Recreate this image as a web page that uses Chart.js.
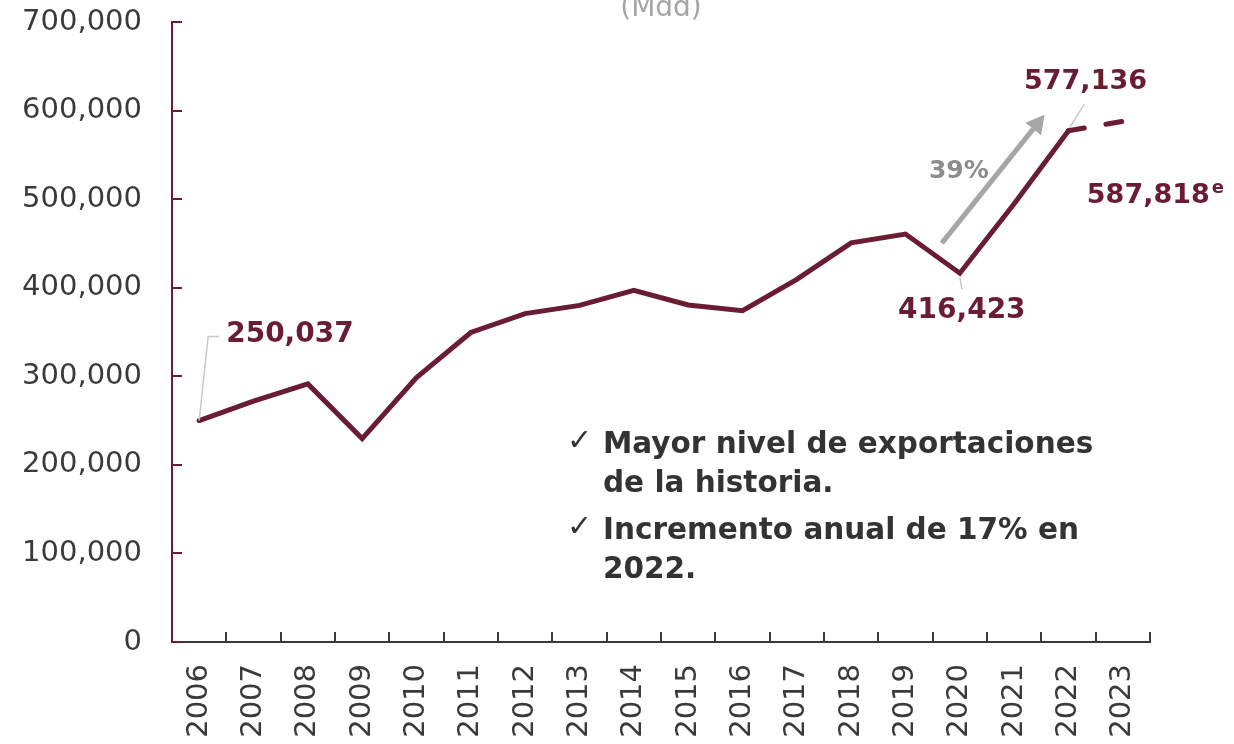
<!DOCTYPE html>
<html lang="es">
<head>
    <meta charset="UTF-8">
    <title>Exportaciones totales (Mdd)</title>
    <script src="https://cdn.jsdelivr.net/npm/chart.js"></script>
    <style>
        html, body {
            margin: 0;
            padding: 0;
            background: #fff;
            overflow: hidden;
        }
        #wrap {
            width: 1234px;
            height: 744px;
        }
    </style>
</head>
<body>
    <div id="wrap"><canvas id="chart" width="1234" height="744"></canvas></div>

    <script>
        // datos (millones de dólares)
        const years = ['2006', '2007', '2008', '2009', '2010', '2011', '2012', '2013', '2014',
                       '2015', '2016', '2017', '2018', '2019', '2020', '2021', '2022', '2023'];
        const exportsMdd = [250037, 271875, 291343, 229704, 298473, 349433, 370770, 380015, 396912,
                            380550, 373948, 409401, 450685, 460604, 416423, 494765, 577136, 587818];
        const yTicks = [0, 100000, 200000, 300000, 400000, 500000, 600000, 700000];
        const notes = ['Mayor nivel de exportaciones', 'de la historia.', 'Incremento anual de 17% en', '2022.'];

        const guinda = '#691c32';
        const textDark = '#333333';
        const fontFam = "'DejaVu Sans', sans-serif";
        const fmt = v => v.toLocaleString('en-US');

        // marcas, etiquetas y flecha
        const extras = {
            id: 'extras',
            afterDraw(chart) {
                const { ctx, chartArea: a } = chart;
                const x = chart.scales.x, y = chart.scales.y;
                const pt = i => ({ x: x.getPixelForValue(i), y: y.getPixelForValue(exportsMdd[i]) });
                ctx.save();

                // ticks hacia adentro
                ctx.lineWidth = 2;
                ctx.strokeStyle = guinda;
                yTicks.forEach(v => {
                    const py = Math.round(y.getPixelForValue(v));
                    ctx.beginPath(); ctx.moveTo(a.left, py); ctx.lineTo(a.left + 10, py); ctx.stroke();
                });
                const half = (x.getPixelForValue(1) - x.getPixelForValue(0)) / 2;
                ctx.strokeStyle = '#3a3a3a';
                years.forEach((yr, i) => {
                    const px = Math.round(x.getPixelForValue(i) + half);
                    ctx.beginPath(); ctx.moveTo(px, a.bottom); ctx.lineTo(px, a.bottom - 10); ctx.stroke();
                });

                // titulo
                ctx.fillStyle = '#a6a6a6';
                ctx.font = '28px ' + fontFam;
                ctx.textAlign = 'center';
                ctx.textBaseline = 'alphabetic';
                ctx.fillText('(Mdd)', (a.left + a.right) / 2, 16);

                // lineas guia
                ctx.strokeStyle = '#c8c8c8';
                ctx.lineWidth = 1.5;
                const p0 = pt(0), p14 = pt(14), p16 = pt(16), p17 = pt(17);
                ctx.beginPath();
                ctx.moveTo(p0.x, p0.y); ctx.lineTo(p0.x + 9, p0.y - 84); ctx.lineTo(p0.x + 20, p0.y - 84);
                ctx.moveTo(p14.x, p14.y + 4); ctx.lineTo(p14.x + 2, p14.y + 16);
                ctx.moveTo(p16.x + 1, p16.y - 3); ctx.lineTo(p16.x + 16, p16.y - 27);
                ctx.stroke();

                // etiquetas de valores
                ctx.fillStyle = guinda;
                ctx.font = 'bold 28px ' + fontFam;
                ctx.textBaseline = 'middle';
                ctx.textAlign = 'left';
                ctx.fillText(fmt(exportsMdd[0]), p0.x + 27, p0.y - 86);
                ctx.textAlign = 'center';
                ctx.fillText(fmt(exportsMdd[14]), p14.x + 2, p14.y + 38);
                ctx.font = 'bold 27px ' + fontFam;
                ctx.fillText(fmt(exportsMdd[16]), p16.x + 17, p16.y - 49);
                ctx.textAlign = 'left';
                const t23 = fmt(exportsMdd[17]);
                ctx.fillText(t23, p17.x - 36, p17.y + 75);
                const w23 = ctx.measureText(t23).width;
                ctx.font = 'bold 18px ' + fontFam;
                ctx.fillText('e', p17.x - 36 + w23 + 2, p17.y + 67);

                // flecha 39%
                const ax0 = p14.x - 18, ay0 = p14.y - 30;
                const ax1 = p16.x - 24, ay1 = p16.y - 16;
                const ang = Math.atan2(ay1 - ay0, ax1 - ax0);
                const headL = 18, headW = 10;
                ctx.strokeStyle = '#a6a6a6';
                ctx.fillStyle = '#a6a6a6';
                ctx.lineWidth = 5;
                ctx.beginPath();
                ctx.moveTo(ax0, ay0);
                ctx.lineTo(ax1 - headL * Math.cos(ang), ay1 - headL * Math.sin(ang));
                ctx.stroke();
                ctx.beginPath();
                ctx.moveTo(ax1, ay1);
                ctx.lineTo(ax1 - headL * Math.cos(ang) + headW * Math.sin(ang), ay1 - headL * Math.sin(ang) - headW * Math.cos(ang));
                ctx.lineTo(ax1 - headL * Math.cos(ang) - headW * Math.sin(ang), ay1 - headL * Math.sin(ang) + headW * Math.cos(ang));
                ctx.closePath();
                ctx.fill();
                ctx.fillStyle = '#8c8c8c';
                ctx.font = 'bold 25px ' + fontFam;
                ctx.textAlign = 'center';
                ctx.fillText('39%', p14.x - 1, p14.y - 102);

                // notas
                const nx = a.left + 431;
                const lines = [a.top + 423, a.top + 462, a.top + 509, a.top + 548];
                ctx.fillStyle = textDark;
                ctx.textAlign = 'left';
                ctx.font = '30px ' + fontFam;
                ctx.fillText('\u2713', nx - 36, lines[0] - 3);
                ctx.fillText('\u2713', nx - 36, lines[2] - 3);
                ctx.font = 'bold 29.5px ' + fontFam;
                notes.forEach((n, i) => ctx.fillText(n, nx, lines[i]));

                ctx.restore();
            }
        };

        const ctx = document.getElementById('chart').getContext('2d');
        new Chart(ctx, {
            type: 'line',
            data: {
                labels: years,
                datasets: [{
                    data: exportsMdd,
                    borderColor: guinda,
                    borderWidth: 5,
                    borderCapStyle: 'round',
                    borderJoinStyle: 'miter',
                    pointRadius: 0,
                    tension: 0,
                    fill: false,
                    segment: {
                        borderDash: c => c.p1DataIndex === years.length - 1 ? [16, 22] : undefined
                    }
                }]
            },
            options: {
                responsive: false,
                animation: false,
                layout: { padding: { top: 22, right: 84, left: 0, bottom: 0 } },
                plugins: {
                    legend: { display: false },
                    tooltip: { enabled: false }
                },
                scales: {
                    x: {
                        offset: true,
                        grid: { drawOnChartArea: false, drawTicks: false, offset: true },
                        border: { color: '#3a3a3a', width: 2 },
                        ticks: {
                            autoSkip: false,
                            minRotation: 90,
                            maxRotation: 90,
                            padding: 22,
                            color: '#3a3a3a',
                            font: { family: fontFam, size: 29 }
                        },
                        afterFit: s => { s.height = 102; s.paddingTop = 0; s.paddingBottom = 0; }
                    },
                    y: {
                        min: 0,
                        max: 700000,
                        grid: { drawOnChartArea: false, drawTicks: false },
                        border: { color: guinda, width: 2 },
                        afterBuildTicks: s => { s.ticks = yTicks.map(v => ({ value: v })); },
                        ticks: {
                            padding: 30,
                            color: '#3a3a3a',
                            font: { family: fontFam, size: 29 },
                            callback: v => fmt(v)
                        },
                        afterFit: s => { s.width = 172; s.paddingTop = 0; s.paddingBottom = 0; }
                    }
                }
            },
            plugins: [extras]
        });
    </script>
</body>
</html>
